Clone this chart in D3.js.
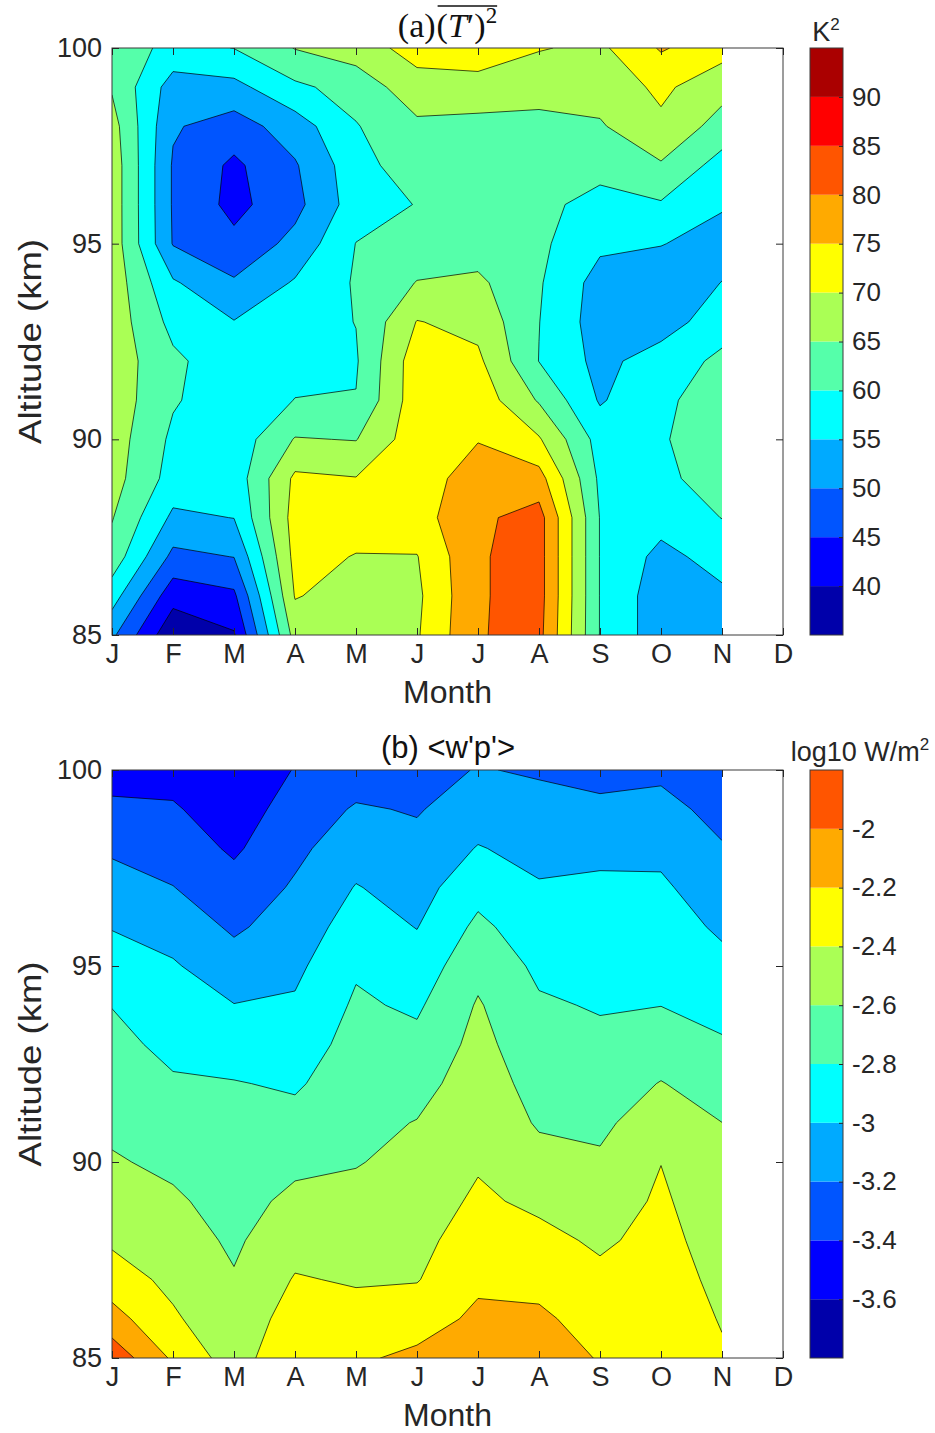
<!DOCTYPE html>
<html>
<head>
<meta charset="utf-8">
<script src="https://cdnjs.cloudflare.com/ajax/libs/d3/7.8.5/d3.min.js"></script>
<style>
  body { margin: 0; background: #fff; }
  svg { font-family: "Liberation Sans", Arial, Helvetica, sans-serif; }
  .axis text { font-size: 27px; fill: #262626; }
  .axis line { stroke: #262626; }
  .axis path { display: none; }
  .cbar text { font-size: 26px; fill: #262626; }
  .cbar line { stroke: #262626; }
  .cbar path { display: none; }
  .label { font-size: 32px; fill: #262626; }
  .serif-title { font-family: "Liberation Serif", "DejaVu Serif", serif; font-size: 34px; fill: #111; }
  .contour { stroke: #000; stroke-width: 0.7; stroke-linejoin: round; }
</style>
</head>
<body>
<div id="chart"></div>
<script>

// Tick labels and grid coordinates
const monthLabels = ["J", "F", "M", "A", "M", "J", "J", "A", "S", "O", "N", "D"];
const altitudes = [100, 99, 98, 97, 96, 95, 94, 93, 92, 91, 90, 89, 88, 87, 86, 85];
const altTicks = [85, 90, 95, 100];

// Contour levels / colorbar ticks
const tempLevels = [35, 40, 45, 50, 55, 60, 65, 70, 75, 80, 85, 90, 95];
const tempTicks = [40, 45, 50, 55, 60, 65, 70, 75, 80, 85, 90];
const fluxLevels = [-3.8, -3.6, -3.4, -3.2, -3.0, -2.8, -2.6, -2.4, -2.2, -2.0, -1.8];
const fluxTicks = [-3.6, -3.4, -3.2, -3.0, -2.8, -2.6, -2.4, -2.2, -2.0];

// jet(12)
const jetColors = ["#0000aa", "#0000ff", "#0055ff", "#00aaff", "#00ffff", "#55ffaa",
                   "#aaff55", "#ffff00", "#ffaa00", "#ff5500", "#ff0000", "#aa0000"];

// (a) T'^2 in K^2, rows = altitude 100 -> 85 km, columns = Jan -> Nov
const tempRows = [
  [63,   58.5, 60.1, 65.2, 67.5, 72,   73,   70.3, 69,   75.5, 72  ],
  [64.5, 52.7, 53.5, 59,   62,   68,   68,   67,   67,   71,   66.8],
  [67,   50.5, 47.7, 52.5, 59.7, 64,   63.5, 63.5, 64.5, 69,   63  ],
  [68,   49.5, 44,   49.5, 58,   63,   62,   62,   62,   64.5, 58  ],
  [68,   49.5, 43.5, 48.5, 57.5, 60.2, 62,   61.5, 58,   59.5, 55.5],
  [68,   49.7, 46.3, 51.5, 60.1, 62,   62.5, 61,   56,   55.2, 53  ],
  [68,   55.6, 50.6, 55.5, 60.5, 65.2, 66,   60.5, 53,   52,   55.1],
  [68,   58.5, 55.2, 58,   60.1, 70.2, 68.5, 60.1, 52.5, 52.5, 58  ],
  [68,   61,   57,   58.5, 59.5, 73,   71,   59.9, 53.5, 57.5, 61  ],
  [68,   60.5, 57,   60.1, 60.2, 73,   73,   64.5, 54.5, 59,   62.5],
  [67.5, 59,   57,   65.3, 64.8, 73,   74.8, 70.5, 58,   59.5, 63  ],
  [67,   58,   57,   71,   70.2, 73,   77,   77,   59,   59,   62  ],
  [65.3, 54,   55.1, 72,   72,   73,   79,   82,   59.8, 57,   60.1],
  [63,   48.7, 50.1, 71.5, 69.8, 69.8, 79.5, 82,   59.8, 53.5, 57  ],
  [57.2, 41.9, 44,   70.3, 68,   69,   79.5, 82,   59.8, 52,   54  ],
  [51,   36,   39.5, 67,   68,   69.5, 79.7, 81.5, 59.8, 52,   52.5]
];

// (b) <w'p'> in log10 W/m^2, same grid
const fluxRows = [
  [-3.5,   -3.47,  -3.56,  -3.39,  -3.3,   -3.27,  -3.19,  -3.22,  -3.27,  -3.24,  -3.32 ],
  [-3.35,  -3.38,  -3.5,   -3.316, -3.18,  -3.215, -3.1,   -3.14,  -3.154, -3.141, -3.26 ],
  [-3.23,  -3.29,  -3.43,  -3.245, -3.086, -3.145, -2.989, -3.06,  -3.042, -3.045, -3.185],
  [-3.116, -3.195, -3.326, -3.176, -2.99,  -3.076, -2.868, -2.983, -2.968, -2.97,  -3.108],
  [-3.01,  -3.082, -3.23,  -3.11,  -2.91,  -3.006, -2.757, -2.91,  -2.917, -2.914, -3.03 ],
  [-2.907, -2.98,  -3.118, -3.044, -2.825, -2.918, -2.656, -2.84,  -2.866, -2.858, -2.95 ],
  [-2.805, -2.913, -2.995, -2.975, -2.772, -2.83,  -2.582, -2.776, -2.815, -2.803, -2.865],
  [-2.749, -2.847, -2.897, -2.9,   -2.73,  -2.747, -2.542, -2.723, -2.758, -2.698, -2.778],
  [-2.695, -2.779, -2.79,  -2.825, -2.69,  -2.668, -2.501, -2.671, -2.698, -2.592, -2.69 ],
  [-2.64,  -2.709, -2.757, -2.738, -2.65,  -2.593, -2.461, -2.62,  -2.638, -2.497, -2.599],
  [-2.582, -2.638, -2.715, -2.643, -2.61,  -2.547, -2.42,  -2.537, -2.574, -2.403, -2.562],
  [-2.505, -2.572, -2.672, -2.554, -2.548, -2.5,   -2.368, -2.44,  -2.502, -2.37,  -2.525],
  [-2.43,  -2.511, -2.63,  -2.47,  -2.483, -2.455, -2.303, -2.345, -2.43,  -2.34,  -2.488],
  [-2.305, -2.45,  -2.585, -2.386, -2.418, -2.41,  -2.237, -2.25,  -2.354, -2.31,  -2.45 ],
  [-2.124, -2.371, -2.55,  -2.3,   -2.33,  -2.292, -2.16,  -2.17,  -2.27,  -2.28,  -2.413],
  [-1.87,  -2.23,  -2.5,   -2.22,  -2.23,  -2.155, -2.1,   -2.12,  -2.21,  -2.26,  -2.376]
];

let svg = d3.select("#chart")
  .append("svg")
  .attr("width", 935)
  .attr("height", 1433);

function drawPanel(cfg) {

  let left = 112, right = 783, dataRight = 722;

  let xPositionScale = d3.scaleLinear()
    .domain([0, 11])
    .range([left, right]);

  let yPositionScale = d3.scaleLinear()
    .domain([85, 100])
    .range([cfg.bottom, cfg.top]);

  let g = svg.append("g").attr("class", "panel");

  // clip to the part of the year that has data
  g.append("clipPath")
    .attr("id", cfg.id + "-clip")
    .append("rect")
    .attr("x", left)
    .attr("y", cfg.top)
    .attr("width", dataRight - left)
    .attr("height", cfg.bottom - cfg.top);

  // filled contours
  let nx = cfg.rows[0].length, ny = cfg.rows.length;
  let values = [].concat(...cfg.rows);
  let altStep = altitudes[0] - altitudes[1];

  let projection = d3.geoTransform({
    point: function(px, py) {
      this.stream.point(
        xPositionScale(px - 0.5),
        yPositionScale(altitudes[0] - (py - 0.5) * altStep)
      );
    }
  });
  let path = d3.geoPath(projection);

  let bands = d3.contours()
    .size([nx, ny])
    .thresholds(cfg.levels.slice(0, -1))(values);

  g.append("g")
    .attr("clip-path", "url(#" + cfg.id + "-clip)")
    .selectAll("path")
    .data(bands)
    .join("path")
    .attr("class", "contour")
    .attr("d", path)
    .attr("fill", (d, i) => jetColors[i]);

  // axes box
  g.append("rect")
    .attr("x", left)
    .attr("y", cfg.top)
    .attr("width", right - left)
    .attr("height", cfg.bottom - cfg.top)
    .attr("fill", "none")
    .attr("stroke", "#3a3a3a")
    .attr("stroke-width", 1);

  let monthIdx = monthLabels.map((m, i) => i);

  let xAxis = d3.axisBottom(xPositionScale)
    .tickValues(monthIdx)
    .tickSize(-7)
    .tickPadding(9)
    .tickFormat(i => monthLabels[i]);

  g.append("g")
    .attr("class", "axis x-axis")
    .attr("transform", "translate(0," + cfg.bottom + ")")
    .call(xAxis);

  g.append("g")
    .attr("class", "axis")
    .attr("transform", "translate(0," + cfg.top + ")")
    .call(d3.axisTop(xPositionScale).tickValues(monthIdx).tickSize(-7).tickFormat(""));

  let yAxis = d3.axisLeft(yPositionScale)
    .tickValues(altTicks)
    .tickSize(-7)
    .tickPadding(10);

  g.append("g")
    .attr("class", "axis y-axis")
    .attr("transform", "translate(" + left + ",0)")
    .call(yAxis);

  g.append("g")
    .attr("class", "axis")
    .attr("transform", "translate(" + right + ",0)")
    .call(d3.axisRight(yPositionScale).tickValues(altTicks).tickSize(-7).tickFormat(""));

  // axis labels
  g.append("text")
    .attr("class", "label")
    .attr("text-anchor", "middle")
    .attr("x", (left + right) / 2)
    .attr("y", cfg.bottom + 68)
    .text("Month");

  g.append("text")
    .attr("class", "label")
    .attr("text-anchor", "middle")
    .attr("textLength", 205)
    .attr("lengthAdjust", "spacingAndGlyphs")
    .attr("transform", "translate(41," + ((cfg.top + cfg.bottom) / 2) + ") rotate(-90)")
    .text("Altitude (km)");

  // colorbar
  let cbLeft = 810, cbWidth = 33;
  let cScale = d3.scaleLinear()
    .domain([cfg.levels[0], cfg.levels[cfg.levels.length - 1]])
    .range([cfg.bottom, cfg.top]);

  g.append("g")
    .selectAll("rect")
    .data(cfg.levels.slice(0, -1))
    .join("rect")
    .attr("x", cbLeft)
    .attr("width", cbWidth)
    .attr("y", (d, i) => cScale(cfg.levels[i + 1]))
    .attr("height", (d, i) => cScale(d) - cScale(cfg.levels[i + 1]))
    .attr("fill", (d, i) => jetColors[i]);

  g.append("rect")
    .attr("x", cbLeft)
    .attr("y", cfg.top)
    .attr("width", cbWidth)
    .attr("height", cfg.bottom - cfg.top)
    .attr("fill", "none")
    .attr("stroke", "#3a3a3a")
    .attr("stroke-width", 1);

  g.append("g")
    .attr("class", "cbar")
    .attr("transform", "translate(" + (cbLeft + cbWidth) + ",0)")
    .call(d3.axisRight(cScale)
      .tickValues(cfg.ticks)
      .tickSize(-4)
      .tickPadding(9)
      .tickFormat(d => String(+d.toFixed(1))));

  return g;
}

let panelA = drawPanel({ id: "a", top: 48, bottom: 635, rows: tempRows, levels: tempLevels, ticks: tempTicks });
let panelB = drawPanel({ id: "b", top: 770, bottom: 1358, rows: fluxRows, levels: fluxLevels, ticks: fluxTicks });

// colorbar titles
let kLabel = svg.append("text")
  .attr("x", 826)
  .attr("y", 41)
  .attr("text-anchor", "middle")
  .attr("font-size", 27)
  .attr("fill", "#262626");
kLabel.append("tspan").text("K");
kLabel.append("tspan").attr("font-size", 17).attr("dy", -11).text("2");

let fLabel = svg.append("text")
  .attr("x", 860)
  .attr("y", 761)
  .attr("text-anchor", "middle")
  .attr("font-size", 27)
  .attr("fill", "#262626");
fLabel.append("tspan").text("log10 W/m");
fLabel.append("tspan").attr("font-size", 17).attr("dy", -11).text("2");

// (a) title with overlined (T')^2
let titleA = svg.append("g");
let aPart = titleA.append("text")
  .attr("class", "serif-title")
  .attr("x", 0)
  .attr("y", 37)
  .text("(a)");
let aWidth = aPart.node().getComputedTextLength();
let expr = titleA.append("text")
  .attr("class", "serif-title")
  .attr("x", aWidth + 1)
  .attr("y", 37);
expr.append("tspan").text("(");
expr.append("tspan").attr("font-style", "italic").text("T");
expr.append("tspan").text("\u2032)");
expr.append("tspan").attr("font-size", 23).attr("dy", -14).text("2");
let eb = expr.node().getBBox();
titleA.append("line")
  .attr("x1", eb.x + 1)
  .attr("x2", eb.x + eb.width)
  .attr("y1", 6)
  .attr("y2", 6)
  .attr("stroke", "#111")
  .attr("stroke-width", 1.4);
let totalW = eb.x + eb.width;
titleA.attr("transform", "translate(" + (447.5 - totalW / 2) + ",0)");

// (b) title
svg.append("text")
  .attr("x", 448)
  .attr("y", 758)
  .attr("text-anchor", "middle")
  .attr("font-size", 31)
  .attr("fill", "#111")
  .text("(b) <w'p'>");

</script>
</body>
</html>
